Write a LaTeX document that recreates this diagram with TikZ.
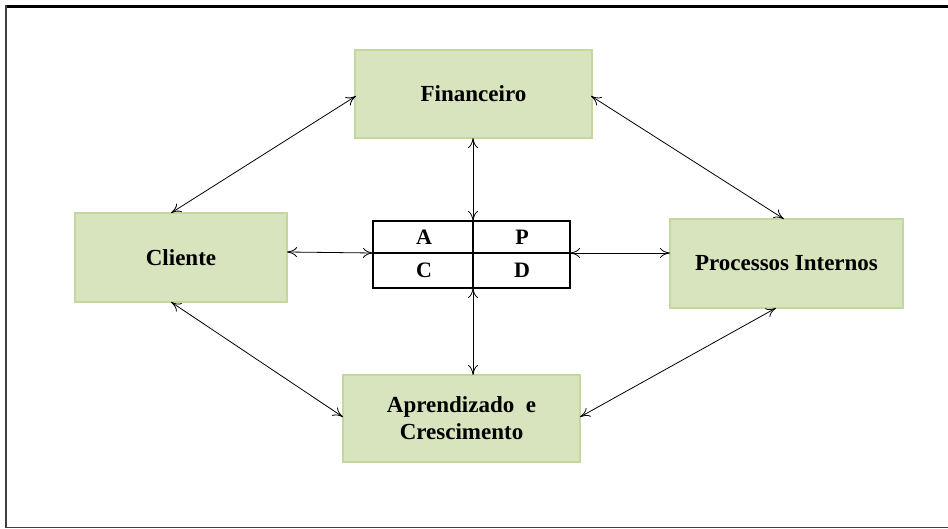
\documentclass[tikz,border=0pt]{standalone}
\usepackage{fontspec}
\setmainfont{Liberation Serif}
\usetikzlibrary{arrows.meta}
\definecolor{boxfill}{HTML}{D7E4BD}
\definecolor{boxline}{HTML}{C4D79F}
\tikzset{
  pbox/.style={draw=boxline, line width=2pt, fill=boxfill, inner sep=0pt,
    font=\fontsize{23}{27}\selectfont\bfseries, align=center},
  link/.style={line width=0.8pt, {To[length=10pt,width=10pt]}-{To[length=10pt,width=10pt]}},
  letter/.style={font=\fontsize{22}{24}\selectfont\bfseries, inner sep=0pt}
}
\begin{document}
\begin{tikzpicture}[x=1pt,y=-1pt]
\useasboundingbox (0,0) rectangle (948,529);
\fill[white] (0,0) rectangle (948,529);
% frame
\draw[line width=3pt] (948,6.5) -- (5,6.5);
\draw[line width=1.5pt, black!75] (6,5) -- (6,527.5) -- (948,527.5);
% boxes
\node[pbox, minimum width=237pt, minimum height=88pt] (fin) at (473.5,94) {Financeiro};
\node[pbox, minimum width=212pt, minimum height=89pt] (cli) at (181,257.5) {Cliente};
\node[pbox, minimum width=233pt, minimum height=89pt] (proc) at (786.5,263.5) {Processos Internos};
\node[pbox, minimum width=237pt, minimum height=87pt] (apr) at (461.5,418.5) {Aprendizado\ \ e\\Crescimento};
% center table
\node[draw, line width=2.5pt, minimum width=197pt, minimum height=67pt, inner sep=0pt] (tab) at (471.5,254.5) {};
\coordinate (tabT) at (473,221);
\coordinate (tabB) at (473,288);
\coordinate (tabL) at (373,253);
\coordinate (tabR) at (570,253);
\draw[line width=1.2pt] (tabT) -- (tabB);
\draw[line width=1.2pt] (tabL) -- (tabR);
\node[letter] (la) at (424,237.5) {A};
\node[letter] (lp) at (522,237.5) {P};
\node[letter] (lc) at (424,270.5) {C};
\node[letter] (ld) at (522,270.5) {D};
% connectors
\coordinate (finL) at (356,96);
\coordinate (finR) at (591,96);
\coordinate (finB) at (473,138);
\coordinate (cliT) at (171,213);
\coordinate (cliR) at (287,252);
\coordinate (cliB) at (171,302);
\coordinate (procT) at (784,219);
\coordinate (procL) at (670,253);
\coordinate (procB) at (776,308);
\coordinate (aprT) at (473,375);
\coordinate (aprL) at (343,417);
\coordinate (aprR) at (580,417);
\draw[link] (finL) -- (cliT);
\draw[link] (finR) -- (procT);
\draw[link] (finB) -- (tabT);
\draw[link] (cliR) -- (tabL);
\draw[link] (tabR) -- (procL);
\draw[link] (tabB) -- (aprT);
\draw[link] (cliB) -- (aprL);
\draw[link] (procB) -- (aprR);
\end{tikzpicture}
\end{document}
